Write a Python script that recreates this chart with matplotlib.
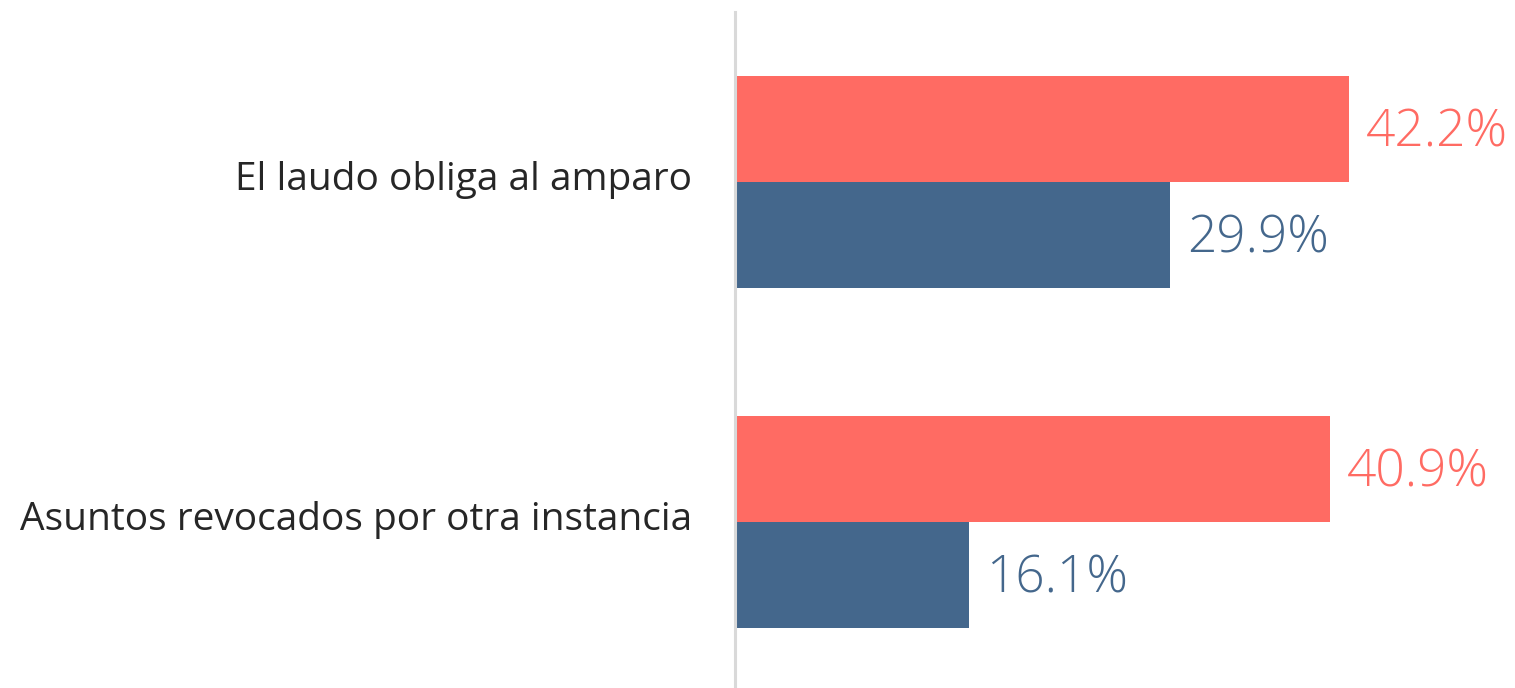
import matplotlib
matplotlib.use("Agg")
import matplotlib.pyplot as plt
from matplotlib import transforms

categories = ["Asuntos revocados por otra instancia", "El laudo obliga al amparo"]
red_values = [40.9, 42.2]
blue_values = [16.1, 29.9]
red_labels = ["40.9%", "42.2%"]
blue_labels = ["16.1%", "29.9%"]

RED = "#FF6B63"
BLUE = "#44678C"
FONT = "Open Sans"

W, H = 1515, 688
fig = plt.figure(figsize=(W / 100, H / 100), dpi=100)
left = 735 / W
top = 12 / H
ax = fig.add_axes([left, 0, 1 - left, 1 - top])

h = 0.312
ypos = list(range(len(categories)))
ax.barh([y + h / 2 for y in ypos], red_values, height=h, color=RED)
ax.barh([y - h / 2 for y in ypos], blue_values, height=h, color=BLUE)

ax.set_xlim(0, (W - 735) / 14.55)
ax.set_ylim(-0.488, 1.5)

off = transforms.offset_copy(ax.transData, fig=fig, x=17, y=-4, units="dots")
for y, v, t in zip(ypos, red_values, red_labels):
    ax.text(v, y + h / 2, t, transform=off, ha="left", va="center",
            color=RED, fontsize=37, family=FONT, fontweight="light")
for y, v, t in zip(ypos, blue_values, blue_labels):
    ax.text(v, y - h / 2, t, transform=off, ha="left", va="center",
            color=BLUE, fontsize=37, family=FONT, fontweight="light")

offl = transforms.offset_copy(ax.transData, fig=fig, x=-43, y=2, units="dots")
for y, c in zip(ypos, categories):
    ax.text(0, y, c, transform=offl, ha="right", va="center",
            color="#262626", fontsize=28, family=FONT)

for s in ["top", "right", "bottom"]:
    ax.spines[s].set_visible(False)
ax.spines["left"].set_color("#D9D9D9")
ax.spines["left"].set_linewidth(2.2)
ax.set_xticks([])
ax.set_yticks([])
ax.patch.set_alpha(0)

fig.savefig("out.png", dpi=100)
